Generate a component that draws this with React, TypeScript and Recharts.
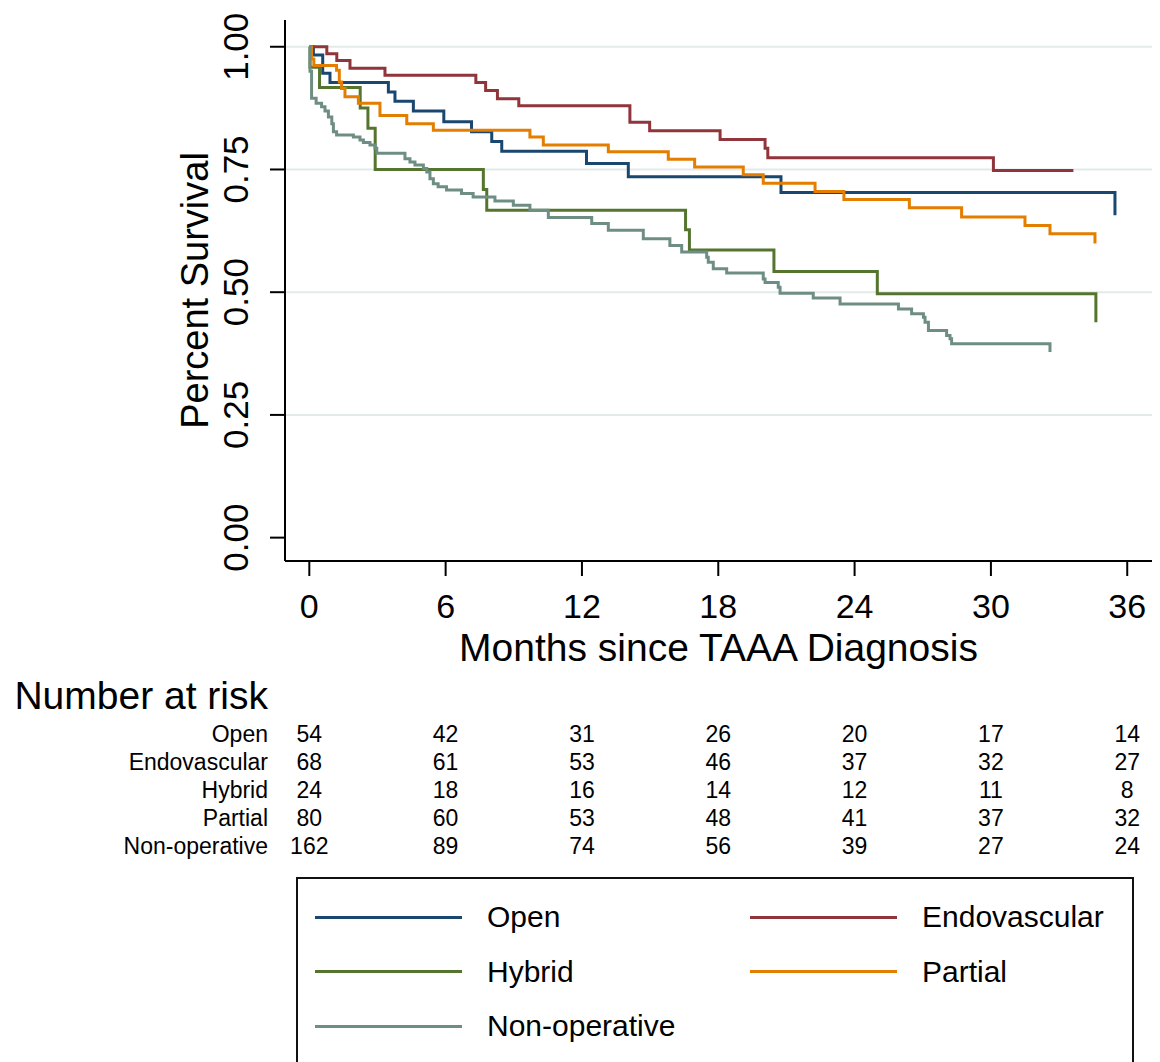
import React from 'react';
import { LineChart, Line, XAxis, YAxis, CartesianGrid } from 'recharts';

const FONT = '"Liberation Sans", Arial, Helvetica, sans-serif';

// axis setup
const xTicks = [0, 6, 12, 18, 24, 30, 36];
const yTicks = [0, 0.25, 0.5, 0.75, 1];
const gridValues = [0.25, 0.5, 0.75, 1];
const xDomain = [-1.07, 37.09];
const yDomain = [-0.0476, 1.0545];

// Kaplan-Meier steps: months since diagnosis / survival
const openT = [0, 0.18, 0.59, 0.91, 3.48, 3.77, 4.58, 5.92, 7.14, 8.03, 8.47, 12.2, 14.04, 20.76, 35.46];
const openS = [1, 0.983, 0.946, 0.927, 0.908, 0.889, 0.869, 0.847, 0.827, 0.807, 0.787, 0.762, 0.735, 0.703, 0.657];

const endoT = [0, 0.77, 1.21, 1.79, 3.33, 7.33, 7.76, 8.28, 9.22, 14.11, 14.98, 18.08, 20.06, 20.18, 30.11, 33.63];
const endoS = [1, 0.986, 0.972, 0.956, 0.942, 0.927, 0.911, 0.894, 0.88, 0.846, 0.829, 0.811, 0.793, 0.774, 0.748, 0.748];

const hybridT = [0, 0.03, 0.45, 2.24, 2.58, 2.9, 7.66, 7.81, 16.56, 16.73, 20.45, 25.0, 34.62];
const hybridS = [1, 0.958, 0.917, 0.875, 0.834, 0.75, 0.709, 0.667, 0.627, 0.586, 0.542, 0.497, 0.439];

const partialT = [0, 0.1, 0.2, 1.2, 1.32, 1.42, 1.57, 2.16, 3.11, 4.29, 5.46, 9.71, 10.3, 13.16, 15.8, 16.96, 19.1, 19.98, 22.26, 23.53, 26.41, 28.71, 31.5, 32.6, 34.58];
const partialS = [1, 0.975, 0.962, 0.952, 0.928, 0.915, 0.898, 0.885, 0.86, 0.843, 0.83, 0.816, 0.8, 0.786, 0.771, 0.755, 0.739, 0.722, 0.705, 0.689, 0.672, 0.653, 0.636, 0.619, 0.599];

const nonopT = [0, 0.03, 0.1, 0.3, 0.54, 0.69, 0.84, 0.99, 1.06, 1.2, 1.94, 2.23, 2.38, 2.67, 2.89, 2.97, 4.21, 4.43, 4.65, 5.02, 5.17, 5.31, 5.46, 5.67, 6.04, 6.7, 7.21, 8.17, 8.98, 9.71, 10.52, 12.43, 13.16, 14.7, 15.87, 16.39, 17.49, 17.56, 17.78, 18.37, 19.98, 20.06, 20.64, 20.72, 22.18, 23.36, 25.93, 26.51, 27.03, 27.1, 27.25, 28.05, 28.2, 28.27, 32.6];
const nonopS = [1, 0.95, 0.895, 0.885, 0.878, 0.869, 0.857, 0.843, 0.827, 0.82, 0.816, 0.81, 0.805, 0.8, 0.793, 0.783, 0.772, 0.765, 0.759, 0.752, 0.745, 0.731, 0.721, 0.715, 0.708, 0.701, 0.694, 0.686, 0.677, 0.667, 0.652, 0.64, 0.626, 0.609, 0.595, 0.582, 0.571, 0.561, 0.548, 0.539, 0.527, 0.52, 0.51, 0.498, 0.488, 0.476, 0.466, 0.456, 0.449, 0.439, 0.422, 0.412, 0.405, 0.395, 0.378];

// number at risk at 0, 6, ..., 36 months
const riskOpen = [54, 42, 31, 26, 20, 17, 14];
const riskEndo = [68, 61, 53, 46, 37, 32, 27];
const riskHybrid = [24, 18, 16, 14, 12, 11, 8];
const riskPartial = [80, 60, 53, 48, 41, 37, 32];
const riskNonop = [162, 89, 74, 56, 39, 27, 24];

const groupNames = ['Open', 'Endovascular', 'Hybrid', 'Partial', 'Non-operative'];
const groupColors = ['#1a476f', '#90353b', '#55752f', '#e37e00', '#6e8e84'];

const toPoints = (t: number[], s: number[]) => t.map((v, i) => ({ t: v, s: s[i] }));

const series = [
  { name: groupNames[0], color: groupColors[0], data: toPoints(openT, openS), risk: riskOpen },
  { name: groupNames[1], color: groupColors[1], data: toPoints(endoT, endoS), risk: riskEndo },
  { name: groupNames[2], color: groupColors[2], data: toPoints(hybridT, hybridS), risk: riskHybrid },
  { name: groupNames[3], color: groupColors[3], data: toPoints(partialT, partialS), risk: riskPartial },
  { name: groupNames[4], color: groupColors[4], data: toPoints(nonopT, nonopS), risk: riskNonop },
];

// the risk-table axes need data bound to them so they get a domain and ticks
const riskAnchor = xTicks.map((t) => ({ t, s: 0.5 }));

const YTick = (props: any) => {
  const { x, y, payload } = props;
  return (
    <text
      x={0}
      y={0}
      transform={`translate(${x},${y}) rotate(-90)`}
      textAnchor="middle"
      dominantBaseline="central"
      fontSize={35}
      fontFamily={FONT}
      fill="#000"
    >
      {Number(payload.value).toFixed(2)}
    </text>
  );
};

const Legend = () => (
  <div
    style={{
      position: 'absolute',
      left: 296,
      top: 877,
      width: 838,
      height: 200,
      border: '2px solid #111',
      boxSizing: 'border-box',
      background: '#fff',
    }}
  >
    {series.map((s, i) => {
      const col = i % 2;
      const row = Math.floor(i / 2);
      return (
        <div
          key={s.name}
          style={{
            position: 'absolute',
            left: 17 + col * 435,
            top: 38 + row * 54.5 - 20,
            height: 40,
            display: 'flex',
            alignItems: 'center',
          }}
        >
          <div style={{ width: 147, height: 3, background: s.color }} />
          <span style={{ marginLeft: 25, fontSize: 30, fontFamily: FONT, color: '#000' }}>{s.name}</span>
        </div>
      );
    })}
  </div>
);

export default function App() {
  return (
    <div style={{ position: 'absolute', left: 0, top: 0, width: 1160, height: 1062, background: '#fff', overflow: 'hidden' }}>
      <LineChart width={1160} height={870} margin={{ top: 20, right: 8, bottom: 10, left: 105 }}>
        <CartesianGrid
          xAxisId="main"
          yAxisId="y"
          vertical={false}
          horizontalValues={gridValues}
          stroke="#e3eaea"
          strokeWidth={2}
        />
        <XAxis
          xAxisId="main"
          dataKey="t"
          type="number"
          domain={xDomain}
          allowDataOverflow
          ticks={xTicks}
          interval={0}
          height={110}
          tickSize={15}
          tickMargin={18}
          tick={{ fontSize: 34, fill: '#000', fontFamily: FONT }}
          axisLine={{ stroke: '#000', strokeWidth: 2 }}
          tickLine={{ stroke: '#000', strokeWidth: 2 }}
          label={{ value: 'Months since TAAA Diagnosis', position: 'insideBottom', offset: 10, fontSize: 39, fill: '#000', fontFamily: FONT }}
        />
        <XAxis
          xAxisId="nar"
          dataKey="t"
          type="number"
          domain={xDomain}
          allowDataOverflow
          ticks={xTicks}
          height={49}
          tick={false}
          tickLine={false}
          axisLine={false}
          label={{ value: 'Number at risk', position: 'left', offset: 17, fontSize: 39, fill: '#000', fontFamily: FONT }}
        />
        {series.map((s, k) => (
          <XAxis
            key={'risk-' + s.name}
            xAxisId={'risk' + k + 'x'}
            dataKey="t"
            type="number"
            domain={xDomain}
            allowDataOverflow
            ticks={xTicks}
            interval={0}
            height={28}
            tickSize={0}
            tickMargin={6}
            tickLine={false}
            axisLine={false}
            tick={{ fontSize: 23, fill: '#000', fontFamily: FONT }}
            tickFormatter={(v: number) => String(s.risk[xTicks.indexOf(v)])}
            label={{ value: s.name, position: 'left', offset: 17, fontSize: 23, fill: '#000', fontFamily: FONT }}
          />
        ))}
        <YAxis
          yAxisId="y"
          type="number"
          domain={yDomain}
          allowDataOverflow
          ticks={yTicks}
          interval={0}
          width={180}
          tickSize={15}
          tickMargin={35}
          tick={<YTick />}
          axisLine={{ stroke: '#000', strokeWidth: 2 }}
          tickLine={{ stroke: '#000', strokeWidth: 2 }}
          label={{ value: 'Percent Survival', angle: -90, position: 'center', fontSize: 38, fill: '#000', fontFamily: FONT }}
        />
        <Line
          xAxisId="nar"
          yAxisId="y"
          data={riskAnchor}
          dataKey="s"
          stroke="none"
          strokeWidth={0}
          dot={false}
          activeDot={false}
          legendType="none"
          isAnimationActive={false}
        />
        {series.map((s, k) => (
          <Line
            key={'anchor-' + s.name}
            xAxisId={'risk' + k + 'x'}
            yAxisId="y"
            data={riskAnchor}
            dataKey="s"
            stroke="none"
            strokeWidth={0}
            dot={false}
            activeDot={false}
            legendType="none"
            isAnimationActive={false}
          />
        ))}
        {series.map((s) => (
          <Line
            key={s.name}
            xAxisId="main"
            yAxisId="y"
            data={s.data}
            dataKey="s"
            name={s.name}
            type="stepAfter"
            stroke={s.color}
            strokeWidth={3}
            dot={false}
            activeDot={false}
            isAnimationActive={false}
          />
        ))}
      </LineChart>
      <Legend />
    </div>
  );
}
